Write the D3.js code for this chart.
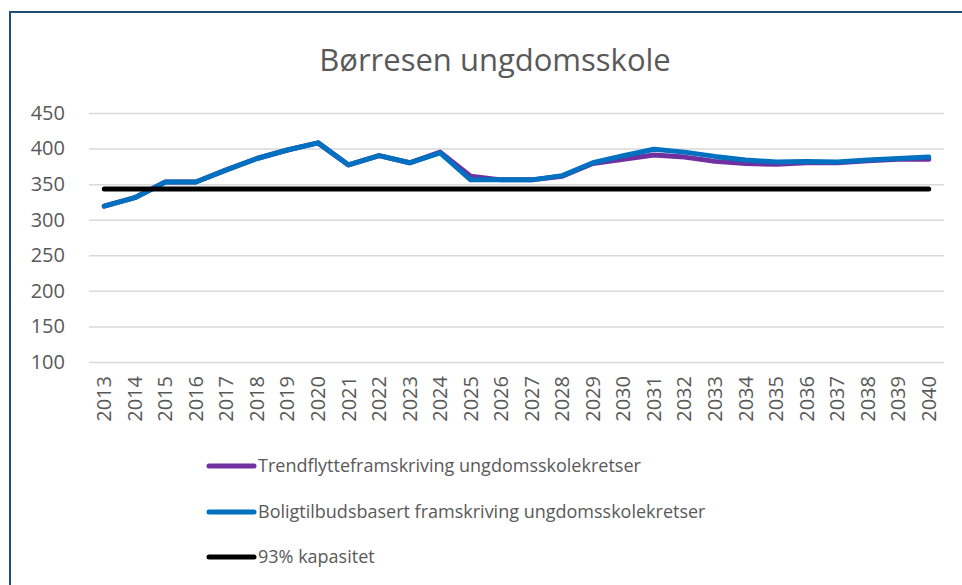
<!DOCTYPE html>
<html>
<head>
<meta charset="utf-8">
<script src="https://cdn.jsdelivr.net/npm/d3@7"></script>
<style>
  body { margin: 0; background: #fff; }
  svg { display: block; font-family: "Open Sans", sans-serif; }
</style>
</head>
<body>
<svg id="chart" width="962" height="585"></svg>
<script>
// categories and series
const years = d3.range(2013, 2041).map(String);

const trendValues = [319, 331, 353, 353, 370, 386, 398, 408, 377, 390, 380, 395, 361, 356, 356, 361,
    379, 385, 391, 388, 382, 379, 378, 380, 380, 383, 385, 385];

const boligValues = [319, 331, 353, 353, 370, 386, 398, 408, 377, 390, 380, 394, 356, 356, 356, 362,
    380, 390, 399, 395, 389, 384, 381, 382, 381, 384, 386, 388];

const capacityValues = years.map(() => 343);

const yTicks = [100, 150, 200, 250, 300, 350, 400, 450];

const seriesNames = [
    "Trendflytteframskriving ungdomsskolekretser",
    "Boligtilbudsbasert framskriving ungdomsskolekretser",
    "93% kapasitet"
];
const seriesColors = ["#7030a0", "#0070c0", "#000000"];

const svg = d3.select("#chart");

// outer chart border (only top/left visible in the crop)
svg.append("rect")
    .attr("x", 10)
    .attr("y", 12)
    .attr("width", 1000)
    .attr("height", 700)
    .attr("fill", "none")
    .attr("stroke", "#1f4e79")
    .attr("stroke-width", 2);

const plot = { left: 89, right: 944, top: 113, bottom: 362 };

const x = d3.scaleBand()
    .domain(years)
    .range([plot.left, plot.right]);

const y = d3.scaleLinear()
    .domain([100, 450])
    .range([plot.bottom, plot.top]);

// title
svg.append("text")
    .attr("x", 495)
    .attr("y", 71)
    .attr("text-anchor", "middle")
    .attr("font-size", 31)
    .attr("fill", "#595959")
    .text("Børresen ungdomsskole");

// gridlines + y labels
const yAxis = g => g
    .attr("transform", `translate(${plot.left},0)`)
    .call(d3.axisLeft(y).tickValues(yTicks).tickSize(-(plot.right - plot.left)).tickPadding(24))
    .call(g => g.select(".domain").remove())
    .call(g => g.selectAll(".tick line").attr("stroke", "#d9d9d9").attr("stroke-width", 1.5))
    .call(g => g.selectAll(".tick text")
        .attr("fill", "#595959")
        .attr("font-size", 20)
        .attr("font-family", "Open Sans, sans-serif"));

svg.append("g").call(yAxis);

// x labels, rotated
const xAxis = g => g
    .attr("transform", `translate(0,${plot.bottom})`)
    .call(d3.axisBottom(x).tickSize(0))
    .call(g => g.select(".domain").remove())
    .call(g => g.selectAll(".tick text")
        .attr("fill", "#595959")
        .attr("font-size", 20)
        .attr("font-family", "Open Sans, sans-serif")
        .attr("text-anchor", "end")
        .attr("transform", "rotate(-90)")
        .attr("x", -14)
        .attr("y", 0)
        .attr("dy", "0.35em"));

svg.append("g").call(xAxis);

// lines
const line = d3.line()
    .x((d, i) => x(years[i]) + x.bandwidth() / 2)
    .y(d => y(d));

const allSeries = [trendValues, boligValues, capacityValues];

svg.append("g")
    .selectAll("path")
    .data(allSeries)
    .join("path")
    .attr("d", d => line(d))
    .attr("fill", "none")
    .attr("stroke", (d, i) => seriesColors[i])
    .attr("stroke-width", 5)
    .attr("stroke-linejoin", "round")
    .attr("stroke-linecap", "round");

// legend
const legendRows = [466, 512, 557];

const legend = svg.append("g")
    .selectAll("g")
    .data(seriesNames)
    .join("g")
    .attr("transform", (d, i) => `translate(0,${legendRows[i]})`);

legend.append("line")
    .attr("x1", 209)
    .attr("x2", 254)
    .attr("stroke", (d, i) => seriesColors[i])
    .attr("stroke-width", 5)
    .attr("stroke-linecap", "round");

legend.append("text")
    .attr("x", 258)
    .attr("dy", "0.35em")
    .attr("font-size", 18)
    .attr("fill", "#595959")
    .text(d => d);
</script>
</body>
</html>
